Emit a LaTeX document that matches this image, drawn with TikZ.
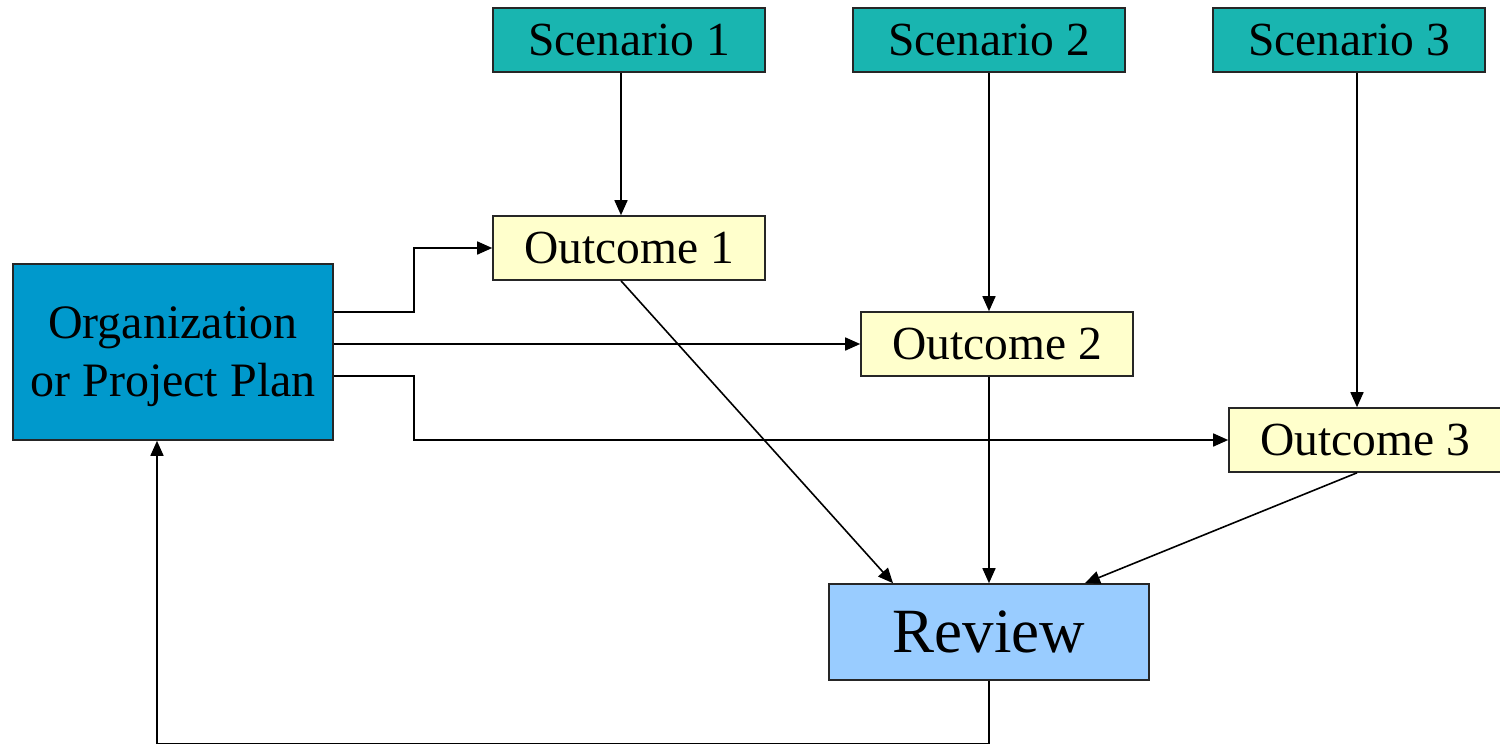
\documentclass[tikz,border=0pt]{standalone}
\usepackage{fontspec}
\setmainfont{Liberation Serif}
\usetikzlibrary{arrows.meta}
\definecolor{scenfill}{RGB}{25,181,176}
\definecolor{orgfill}{RGB}{0,153,204}
\definecolor{outfill}{RGB}{255,255,204}
\definecolor{revfill}{RGB}{153,204,255}
\begin{document}
\begin{tikzpicture}[x=1pt,y=-1pt,
  box/.style={draw=black!85,line width=1.6pt,inner sep=0pt,font=\fontsize{47.5}{58}\selectfont},
  scen/.style={box,fill=scenfill,minimum width=272pt,minimum height=64pt},
  outc/.style={box,fill=outfill,minimum width=272pt,minimum height=64pt},
  arr/.style={line width=1.6pt,-{Triangle[length=15pt,width=13pt]}}]
\useasboundingbox (0,0) rectangle (1500,744);
% scenario inputs
\node[scen] (s1) at (629,40) {Scenario 1};
\node[scen] (s2) at (989,40) {Scenario 2};
\node[scen] (s3) at (1349,40) {Scenario 3};
% outcomes
\node[outc] (o1) at (629,248) {Outcome 1};
\node[outc] (o2) at (997,344) {Outcome 2};
\node[outc] (o3) at (1365,440) {Outcome 3};
% plan and review
\node[box,fill=orgfill,minimum width=320pt,minimum height=176pt] (org) at (173,352) {};
\node[font=\fontsize{48}{58}\selectfont,align=center,inner sep=0pt] (orgtext) at (173,357) {Organization\\or Project Plan};
\node[box,fill=revfill,minimum width=320pt,minimum height=96pt,font=\fontsize{63}{70}\selectfont] (rev) at (989,632) {Review};
% scenarios to outcomes
\draw[arr] ([xshift=-8pt]s1.south) -- ([xshift=-8pt]o1.north);
\draw[arr] (s2.south) -- ([xshift=-8pt]o2.north);
\draw[arr] ([xshift=8pt]s3.south) -- ([xshift=-8pt]o3.north);
% plan to outcomes
\draw[arr] ([yshift=40pt]org.east) -- ++(80,0) |- (o1.west);
\draw[arr] ([yshift=8pt]org.east) -- (o2.west);
\draw[arr] ([yshift=-24pt]org.east) -- ++(80,0) |- (o3.west);
% outcomes to review
\draw[arr] ([xshift=-8pt]o1.south) -- ([xshift=-96pt]rev.north);
\draw[arr] ([xshift=-8pt]o2.south) -- (rev.north);
\draw[arr] ([xshift=-8pt]o3.south) -- ([xshift=96pt]rev.north);
% feedback loop
\draw[arr] (rev.south) -- ++(0,63) -| ([xshift=-16pt]org.south);
\end{tikzpicture}
\end{document}
